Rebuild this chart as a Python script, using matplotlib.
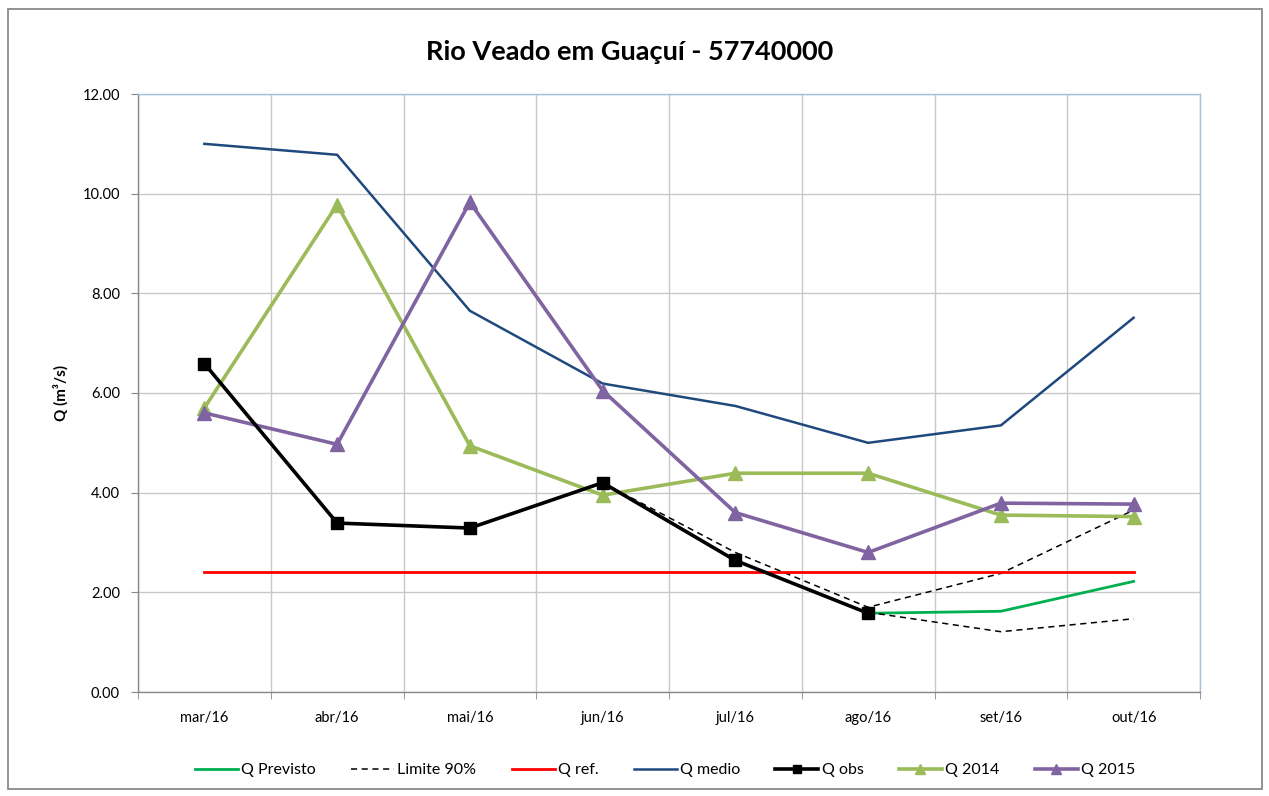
import numpy as np
import matplotlib
matplotlib.use("Agg")
import matplotlib.pyplot as plt
from matplotlib.patches import Rectangle
from matplotlib.ticker import FixedLocator, NullFormatter

plt.rcParams['font.family'] = ['Lato', 'DejaVu Sans']

categories = ["mar/16", "abr/16", "mai/16", "jun/16", "jul/16", "ago/16", "set/16", "out/16"]
nan = np.nan
q_previsto = [nan, nan, nan, nan, nan, 1.58, 1.62, 2.22]
lim90_sup = [nan, nan, nan, 4.20, 2.80, 1.70, 2.38, 3.65]
lim90_inf = [nan, nan, nan, nan, nan, 1.60, 1.21, 1.47]
q_ref = [2.40] * 8
q_medio = [11.00, 10.78, 7.65, 6.19, 5.74, 5.00, 5.35, 7.51]
q_obs = [6.59, 3.39, 3.29, 4.20, 2.64, 1.58, nan, nan]
q_2014 = [5.70, 9.78, 4.94, 3.95, 4.39, 4.39, 3.55, 3.52]
q_2015 = [5.60, 4.97, 9.83, 6.05, 3.60, 2.80, 3.79, 3.77]

W, H = 1269, 796
fig = plt.figure(figsize=(W / 100, H / 100), dpi=100)
ax = fig.add_axes([138 / W, (H - 692) / H, (1200 - 138) / W, (692 - 94) / H])

x = np.arange(len(categories))
ax.plot(x, q_previsto, color='#00B050', lw=2, label='Q Previsto', zorder=3)
ax.plot(x, lim90_sup, color='black', lw=1.1, ls=(0, (4, 3)), label='Limite 90%', zorder=3)
ax.plot(x, lim90_inf, color='black', lw=1.1, ls=(0, (4, 3)), zorder=3)
ax.plot(x, q_ref, color='#FF0000', lw=2, label='Q ref.', zorder=3)
ax.plot(x, q_medio, color='#1F497D', lw=1.8, label='Q medio', zorder=3)
ax.plot(x, q_obs, color='black', lw=2.6, marker='s', ms=8, label='Q obs', zorder=5)
ax.plot(x, q_2014, color='#9BBB59', lw=2.6, marker='^', ms=10, label='Q 2014', zorder=4)
ax.plot(x, q_2015, color='#8064A2', lw=2.6, marker='^', ms=10, label='Q 2015', zorder=4)

ax.set_xlim(-0.5, len(categories) - 0.5)
ax.set_ylim(0, 12)
ax.set_yticks(np.arange(0, 12.01, 2))
ax.set_yticklabels([f"{v:.2f}" for v in np.arange(0, 12.01, 2)])
ax.set_xticks(x)
ax.set_xticklabels(categories)
ax.xaxis.set_minor_locator(FixedLocator(np.arange(-0.5, len(categories), 1)))
ax.xaxis.set_minor_formatter(NullFormatter())
ax.tick_params(axis='x', which='major', length=0, pad=14, labelsize=10.5)
ax.tick_params(axis='x', which='minor', length=5, color='#888888', direction='out')
ax.tick_params(axis='y', length=5, color='#888888', direction='out', pad=8, labelsize=10.5)

ax.grid(axis='y', which='major', color='#C8C8C8', lw=1)
ax.grid(axis='x', which='minor', color='#C8C8C8', lw=1)
ax.set_axisbelow(True)
for s in ['top', 'right']:
    ax.spines[s].set_color('#A7BFDE')
    ax.spines[s].set_linewidth(1)
for s in ['left', 'bottom']:
    ax.spines[s].set_color('#888888')
    ax.spines[s].set_linewidth(1)

ax.set_ylabel('Q (m³/s)', fontsize=11, fontweight='bold', labelpad=10)
fig.text(630 / W, 1 - 52 / H, 'Rio Veado em Guaçuí - 57740000', ha='center', va='center',
         fontsize=19.5, fontweight='bold')

leg = fig.legend(loc='center', bbox_to_anchor=(665 / W, 1 - 770 / H), ncol=7, frameon=False,
                 fontsize=11.5, handlelength=2.7, handletextpad=0.2, columnspacing=2.2,
                 markerscale=0.75)

fig.patches.append(Rectangle((8 / W, 1 - 789 / H), (1262 - 8) / W, (789 - 9) / H,
                             transform=fig.transFigure, fill=False, edgecolor='#808080', lw=1.2))

fig.savefig('out.png', dpi=100)
